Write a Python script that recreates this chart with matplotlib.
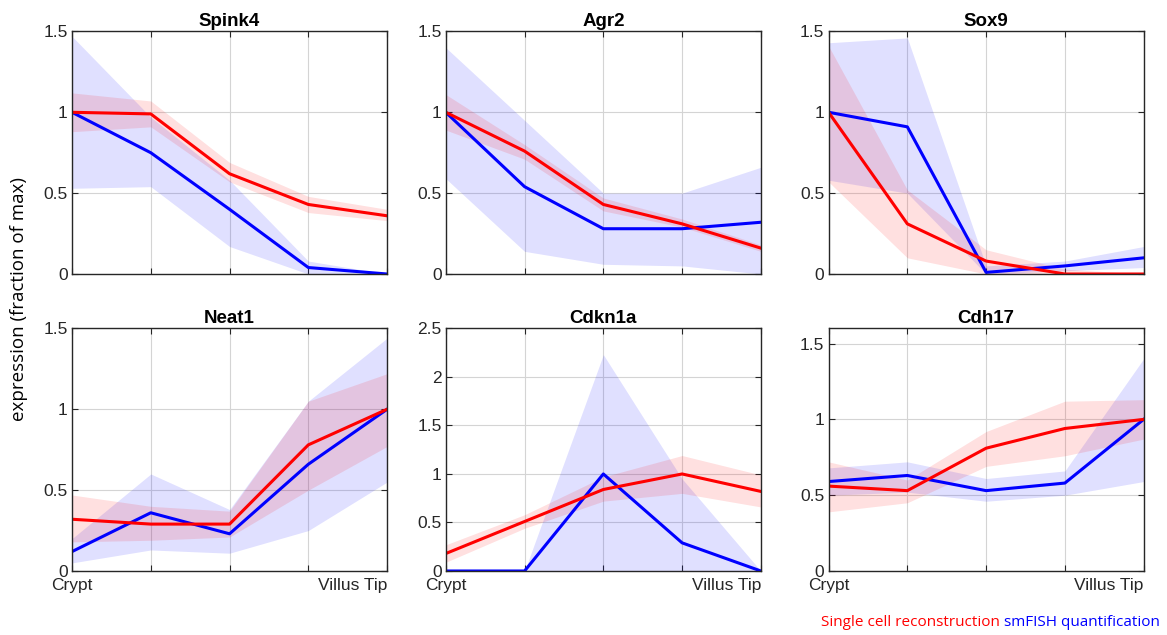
import numpy as np
import matplotlib
matplotlib.use("Agg")
import matplotlib.pyplot as plt

plt.rcParams['font.family'] = ['Liberation Sans', 'DejaVu Sans']

# zones along the crypt-villus axis
zones = [1, 2, 3, 4, 5]
zone_labels = ['Crypt', '', '', '', 'Villus Tip']

# single cell reconstruction (red): mean, lower, upper
spink4_sc = [1.00, 0.99, 0.62, 0.43, 0.36]
spink4_sc_lo = [0.88, 0.91, 0.57, 0.38, 0.33]
spink4_sc_hi = [1.12, 1.07, 0.69, 0.48, 0.40]
# smFISH quantification (blue): mean, lower, upper
spink4_fish = [1.00, 0.75, 0.40, 0.04, 0.00]
spink4_fish_lo = [0.53, 0.54, 0.17, 0.00, 0.00]
spink4_fish_hi = [1.47, 0.97, 0.58, 0.08, 0.00]

agr2_sc = [1.00, 0.76, 0.43, 0.31, 0.16]
agr2_sc_lo = [0.89, 0.71, 0.39, 0.29, 0.14]
agr2_sc_hi = [1.11, 0.80, 0.47, 0.34, 0.18]
agr2_fish = [1.00, 0.54, 0.28, 0.28, 0.32]
agr2_fish_lo = [0.59, 0.14, 0.06, 0.05, 0.00]
agr2_fish_hi = [1.40, 0.95, 0.50, 0.50, 0.66]

sox9_sc = [1.00, 0.31, 0.08, 0.00, 0.00]
sox9_sc_lo = [0.57, 0.10, 0.00, 0.00, 0.00]
sox9_sc_hi = [1.41, 0.52, 0.15, 0.03, 0.00]
sox9_fish = [1.00, 0.91, 0.01, 0.05, 0.10]
sox9_fish_lo = [0.58, 0.50, 0.00, 0.02, 0.04]
sox9_fish_hi = [1.43, 1.46, 0.05, 0.08, 0.17]

neat1_sc = [0.32, 0.29, 0.29, 0.78, 1.00]
neat1_sc_lo = [0.18, 0.19, 0.21, 0.50, 0.77]
neat1_sc_hi = [0.47, 0.40, 0.37, 1.05, 1.22]
neat1_fish = [0.12, 0.36, 0.23, 0.66, 1.00]
neat1_fish_lo = [0.05, 0.13, 0.11, 0.25, 0.55]
neat1_fish_hi = [0.20, 0.60, 0.38, 1.05, 1.44]

cdkn1a_sc = [0.18, 0.51, 0.84, 1.00, 0.82]
cdkn1a_sc_lo = [0.09, 0.44, 0.72, 0.80, 0.66]
cdkn1a_sc_hi = [0.27, 0.58, 0.97, 1.19, 0.99]
cdkn1a_fish = [0.00, 0.00, 1.00, 0.29, 0.00]
cdkn1a_fish_lo = [0.00, 0.00, 0.00, 0.00, 0.00]
cdkn1a_fish_hi = [0.00, 0.00, 2.23, 0.95, 0.00]

cdh17_sc = [0.56, 0.53, 0.81, 0.94, 1.00]
cdh17_sc_lo = [0.39, 0.45, 0.69, 0.76, 0.87]
cdh17_sc_hi = [0.72, 0.60, 0.92, 1.12, 1.13]
cdh17_fish = [0.59, 0.63, 0.53, 0.58, 1.00]
cdh17_fish_lo = [0.50, 0.52, 0.46, 0.50, 0.59]
cdh17_fish_hi = [0.68, 0.72, 0.61, 0.66, 1.40]

genes = ['Spink4', 'Agr2', 'Sox9', 'Neat1', 'Cdkn1a', 'Cdh17']
ylims = [1.5, 1.5, 1.5, 1.5, 2.5, 1.6]

panels = [
    (spink4_sc, spink4_sc_lo, spink4_sc_hi, spink4_fish, spink4_fish_lo, spink4_fish_hi),
    (agr2_sc, agr2_sc_lo, agr2_sc_hi, agr2_fish, agr2_fish_lo, agr2_fish_hi),
    (sox9_sc, sox9_sc_lo, sox9_sc_hi, sox9_fish, sox9_fish_lo, sox9_fish_hi),
    (neat1_sc, neat1_sc_lo, neat1_sc_hi, neat1_fish, neat1_fish_lo, neat1_fish_hi),
    (cdkn1a_sc, cdkn1a_sc_lo, cdkn1a_sc_hi, cdkn1a_fish, cdkn1a_fish_lo, cdkn1a_fish_hi),
    (cdh17_sc, cdh17_sc_lo, cdh17_sc_hi, cdh17_fish, cdh17_fish_lo, cdh17_fish_hi),
]

fig = plt.figure(figsize=(11.67, 6.35), dpi=100)

lefts = [0.0617, 0.382, 0.710]
bottoms = [0.5685, 0.1008]
w, h = 0.270, 0.382
axcol = '#262626'

for i, gene in enumerate(genes):
    row, col = divmod(i, 3)
    ax = fig.add_axes([lefts[col], bottoms[row], w, h])
    sc, sc_lo, sc_hi, fish, fish_lo, fish_hi = panels[i]

    ax.fill_between(zones, fish_lo, fish_hi, color='blue', alpha=0.12, lw=0)
    ax.fill_between(zones, sc_lo, sc_hi, color='red', alpha=0.12, lw=0)
    ax.plot(zones, fish, color='blue', lw=2.2)
    ax.plot(zones, sc, color='red', lw=2.2)

    ax.set_xlim(1, 5)
    ax.set_ylim(0, ylims[i])
    yt = np.arange(0, ylims[i] + 0.01, 0.5)
    ax.set_yticks(yt)
    ax.set_yticklabels(['%g' % v for v in yt])
    ax.set_xticks(zones)
    if row == 1:
        ax.set_xticklabels(zone_labels)
        labs = ax.get_xticklabels()
        labs[-1].set_horizontalalignment('right')
        labs[-1].set_x(5.03)
    else:
        ax.set_xticklabels([])

    ax.grid(True, color='#d4d4d4', lw=0.8)
    ax.set_axisbelow(True)
    ax.tick_params(direction='in', top=True, right=True, length=4,
                   labelsize=12.5, colors=axcol)
    ax.tick_params(axis='y', pad=3)
    ax.tick_params(axis='x', pad=5)
    for s in ax.spines.values():
        s.set_color(axcol)
        s.set_linewidth(1.0)
    ax.set_title(gene, fontsize=13.5, fontweight='bold', pad=4)

fig.text(0.016, 0.529, 'expression (fraction of max)', rotation=90,
         ha='center', va='center', fontsize=13.5, family=['Open Sans', 'DejaVu Sans'])

blue_txt = fig.text(0.994, 0.019, 'smFISH quantification', color='blue', ha='right',
                    va='center', fontsize=11, family=['Open Sans', 'DejaVu Sans'])
ax.annotate('Single cell reconstruction', xy=(0, 0.5), xycoords=blue_txt,
            xytext=(-3, 0), textcoords='offset points', ha='right', va='center',
            color='red', fontsize=11, family=['Open Sans', 'DejaVu Sans'],
            annotation_clip=False)

fig.savefig('out.png', dpi=100)
